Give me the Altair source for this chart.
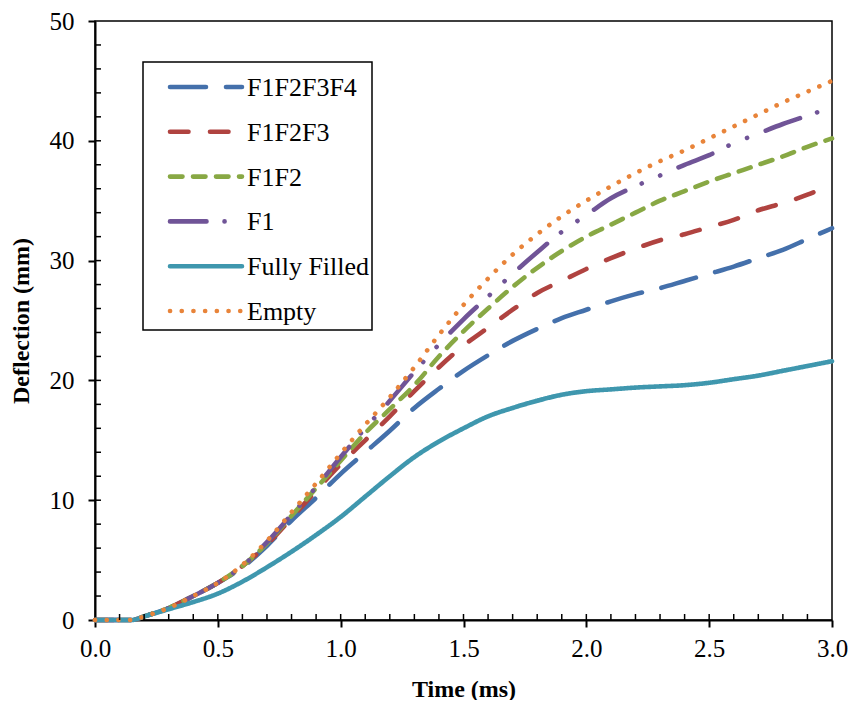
import altair as alt
import pandas as pd

time_ms = [0.0, 0.1, 0.15, 0.2, 0.3, 0.4, 0.5, 0.6, 0.7, 0.8, 0.9, 1.0, 1.1, 1.2, 1.3, 1.4,
           1.5, 1.6, 1.7, 1.8, 1.9, 2.0, 2.1, 2.2, 2.3, 2.4, 2.5, 2.6, 2.7, 2.8, 2.9, 3.0]

f1f2f3f4 = [0, 0, 0, 0.3, 1.0, 2.0, 3.1, 4.4, 6.2, 8.3, 10.2, 12.2, 14.0, 15.8, 17.7, 19.3,
            20.8, 22.1, 23.3, 24.3, 25.2, 25.9, 26.6, 27.2, 27.7, 28.3, 28.9, 29.5, 30.2, 30.9, 31.8, 32.7]
f1f2f3 = [0, 0, 0, 0.3, 1.0, 2.0, 3.1, 4.5, 6.3, 8.5, 10.8, 13.0, 15.0, 17.0, 19.1, 21.1,
          22.9, 24.4, 25.9, 27.3, 28.3, 29.3, 30.2, 31.0, 31.7, 32.2, 32.8, 33.4, 34.2, 34.8, 35.5, 36.4]
f1f2 = [0, 0, 0, 0.3, 1.0, 2.0, 3.1, 4.5, 6.4, 8.7, 11.0, 13.3, 15.6, 17.6, 19.6, 22.0,
        24.1, 26.0, 27.8, 29.4, 30.8, 32.0, 33.0, 34.0, 35.0, 35.8, 36.6, 37.3, 38.0, 38.7, 39.5, 40.2]
f1 = [0, 0, 0, 0.3, 1.0, 2.0, 3.1, 4.5, 6.5, 8.8, 11.1, 13.6, 16.0, 18.3, 20.7, 23.0,
      25.1, 27.0, 28.9, 30.7, 32.4, 33.8, 35.2, 36.2, 37.1, 38.0, 38.8, 39.8, 40.6, 41.4, 42.1, 42.8]
fully_filled = [0, 0, 0, 0.3, 0.9, 1.5, 2.2, 3.2, 4.4, 5.7, 7.1, 8.6, 10.3, 12.0, 13.6, 14.9,
                16.0, 17.0, 17.7, 18.3, 18.8, 19.1, 19.25, 19.4, 19.5, 19.6, 19.8, 20.1, 20.4, 20.8, 21.2, 21.6]
empty = [0, 0, 0, 0.3, 1.0, 2.0, 3.1, 4.6, 6.6, 9.0, 11.4, 13.9, 16.3, 18.6, 21.1, 23.8,
         26.3, 28.5, 30.5, 32.2, 33.7, 35.0, 36.2, 37.3, 38.3, 39.2, 40.2, 41.2, 42.2, 43.2, 44.1, 45.0]

series_names = ["F1F2F3F4", "F1F2F3", "F1F2", "F1", "Fully Filled", "Empty"]
series_values = [f1f2f3f4, f1f2f3, f1f2, f1, fully_filled, empty]
series_colors = ["#4470ab", "#b04340", "#88a844", "#705497", "#3f97ae", "#e8843a"]
series_dashes = [[36, 20], [18.5, 21.5], [12.5, 10.5], [36.5, 18, 0.1, 20, 0.1, 20], [1, 0], [0.1, 11.6]]

x_ticks = [0.0, 0.5, 1.0, 1.5, 2.0, 2.5, 3.0]
y_ticks = [0, 10, 20, 30, 40, 50]
x_minor = [round(i * 0.1, 1) for i in range(1, 30)]
y_minor = [i * 2 for i in range(1, 25)]

rows = []
for name, vals in zip(series_names, series_values):
    for t, v in zip(time_ms, vals):
        rows.append({"Time": t, "Deflection": v, "Series": name})
df = pd.DataFrame(rows)
legend_df = pd.DataFrame({"Series": series_names})

W, H = 737, 599
FONT = "Liberation Serif"

x_scale = alt.Scale(domain=[0, 3], nice=False)
y_scale = alt.Scale(domain=[0, 50], nice=False)
color_scale = alt.Scale(domain=series_names, range=series_colors)
dash_scale = alt.Scale(domain=series_names, range=series_dashes)

x_axis = alt.Axis(values=x_ticks, format=".1f", title="Time (ms)")
y_axis = alt.Axis(values=y_ticks, title="Deflection (mm)")

lines = alt.Chart(df).mark_line(strokeWidth=4.6, strokeCap="round", interpolate="monotone").encode(
    x=alt.X("Time:Q", scale=x_scale, axis=x_axis),
    y=alt.Y("Deflection:Q", scale=y_scale, axis=y_axis),
    color=alt.Color("Series:N", scale=color_scale, legend=None),
    strokeDash=alt.StrokeDash("Series:N", scale=dash_scale, legend=None),
)

xm = alt.Chart(pd.DataFrame({"Time": x_minor})).mark_rule(color="black", strokeWidth=1.5).encode(
    x=alt.X("Time:Q", scale=x_scale, axis=x_axis), y=alt.value(H - 6), y2=alt.value(H))
ym = alt.Chart(pd.DataFrame({"Deflection": y_minor})).mark_rule(color="black", strokeWidth=1.5).encode(
    y=alt.Y("Deflection:Q", scale=y_scale, axis=y_axis), x=alt.value(0), x2=alt.value(6))

main = alt.layer(lines, xm, ym)

leg_y = alt.Y("Series:N", scale=alt.Scale(type="point", domain=series_names, range=[66, 290], padding=0),
              axis=None)
leg_box = alt.Chart(pd.DataFrame({"a": [0]})).mark_rect(
    fill="white", stroke="black", strokeWidth=1.5).encode(
    x=alt.value(48), x2=alt.value(277), y=alt.value(41), y2=alt.value(309))
leg_sym = alt.Chart(legend_df).mark_rule(strokeWidth=4.6, strokeCap="round").encode(
    y=leg_y, x=alt.value(75), x2=alt.value(147),
    color=alt.Color("Series:N", scale=color_scale, legend=None),
    strokeDash=alt.StrokeDash("Series:N", scale=dash_scale, legend=None),
)
leg_txt = alt.Chart(legend_df).mark_text(
    align="left", baseline="middle", font=FONT, fontSize=26, color="black", dy=1).encode(
    y=leg_y, x=alt.value(152), text="Series:N")

legend_layer = alt.layer(leg_box, leg_sym, leg_txt)

chart = alt.layer(main, legend_layer).resolve_scale(y="independent").properties(
    width=W, height=H,
    autosize=alt.AutoSizeParams(type="none"),
    padding={"left": 87, "top": 13, "right": 16, "bottom": 80},
).configure(font=FONT).configure_view(
    stroke="black", strokeWidth=1.5).configure_axis(
    grid=False, domainColor="black", domainWidth=2, tickColor="black", tickWidth=2, tickSize=7,
    labelFont=FONT, labelFontSize=25, labelColor="black", labelFlush=False,
    titleFont=FONT, titleFontSize=24, titleFontWeight="bold", titleColor="black",
).configure_axisX(labelPadding=9, titlePadding=16).configure_axisY(labelPadding=14, titlePadding=16)

chart.save("out.html", embed_options={"renderer": "svg", "actions": False})
